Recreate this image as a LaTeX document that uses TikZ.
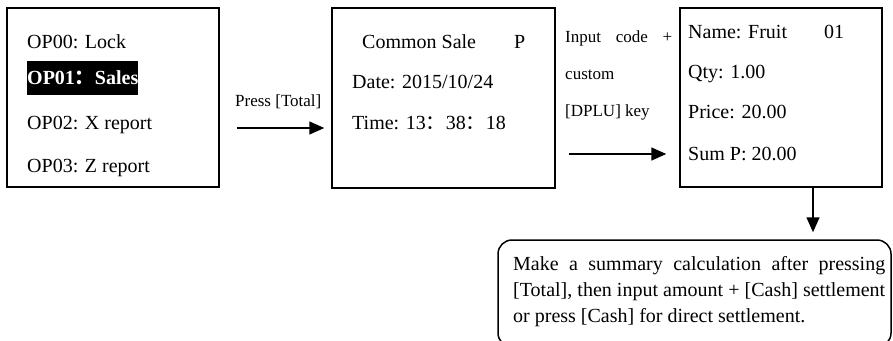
\documentclass[tikz,border=0pt]{standalone}
\usepackage{fontspec}
\setmainfont{Liberation Serif}
\newfontfamily\cjk{Noto Sans CJK SC}
\usetikzlibrary{arrows.meta}
\newcommand{\fwc}{{\cjk ：}}
\begin{document}
\begin{tikzpicture}[x=1pt,y=-1pt,
  screen/.style={draw, line width=1.5pt, inner sep=0pt},
  txt/.style={font=\fontsize{20}{24}\selectfont, anchor=base west, inner sep=0pt},
  lbl/.style={font=\fontsize{17}{20}\selectfont, anchor=base west, inner sep=0pt},
  arr/.style={line width=1.6pt, -{Triangle[length=15pt,width=13pt]}}]
\useasboundingbox (0,0) rectangle (893,340);
\clip (0,0) rectangle (893,340);
% screens
\node[screen, minimum width=212pt, minimum height=179pt] (s1) at (113,97.5) {};
\node[screen, minimum width=223pt, minimum height=180pt] (s2) at (443.5,98) {};
\node[screen, minimum width=202pt, minimum height=179pt] (s3) at (781,97.5) {};
\node[draw, line width=1.5pt, rounded corners=14pt, minimum width=393pt, minimum height=107pt, inner sep=0pt] (note) at (694.5,293.5) {};
% screen 1
\node[txt] (t10) at (27,48) {OP00: Lock};
\node[txt, fill=black, text=white, font=\fontsize{20}{24}\selectfont\bfseries, text height=23pt, text depth=11pt] (t11) at (27,84) {OP01\fwc Sales};
\node[txt] (t12) at (27,129) {OP02: X report};
\node[txt] (t13) at (27,172) {OP03: Z report};
% screen 2
\node[txt] (t20) at (362,48) {Common Sale};
\node[txt] (t20p) at (514,48) {P};
\node[txt] (t21) at (352,88) {Date: 2015/10/24};
\node[txt] (t22) at (352,129) {Time: 13\fwc 38\fwc 18};
% screen 3
\node[txt] (t30) at (688,38) {Name: Fruit};
\node[txt] (t30n) at (824,38) {01};
\node[txt] (t31) at (688,78) {Qty: 1.00};
\node[txt] (t32) at (688,118) {Price: 20.00};
\node[txt] (t33) at (688,160) {Sum P: 20.00};
% labels
\node[lbl] (l1) at (235,106) {Press [Total]};
\node[lbl] (l2a) at (565,42) {\makebox[107pt][s]{Input\hfill code\hfill +}};
\node[lbl] (l2b) at (565,79) {custom};
\node[lbl] (l2c) at (565,116) {[DPLU] key};
% note text
\node[txt, align=left, anchor=north west] (nt) at (513,256) {\makebox[372pt][s]{Make a summary calculation after pressing}\\[2pt]
\makebox[372pt][s]{[Total], then input amount + [Cash] settlement}\\[2pt]
or press [Cash] for direct settlement.};
% arrows
\coordinate (y1) at (0,128);
\coordinate (y2) at (0,154);
\coordinate (x3) at (813,0);
\draw[arr, shorten <=17pt, shorten >=7pt] (s1.east |- y1) -- (s2.west |- y1);
\draw[arr, shorten <=13pt, shorten >=13pt] (s2.east |- y2) -- (s3.west |- y2);
\draw[arr, shorten >=7pt] (x3 |- s3.south) -- (x3 |- note.north);
\end{tikzpicture}
\end{document}
